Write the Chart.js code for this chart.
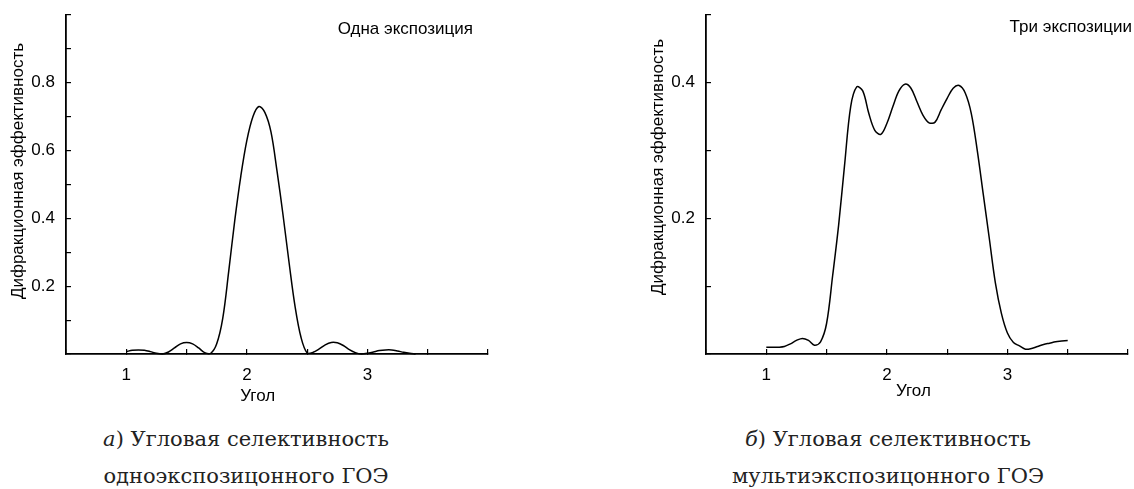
<!DOCTYPE html>
<html>
<head>
<meta charset="utf-8">
<script src="https://cdn.jsdelivr.net/npm/chart.js@4"></script>
<style>
  body { margin: 0; background: #fff; width: 1134px; height: 489px; overflow: hidden; position: relative; }
  canvas { position: absolute; top: 0; }
  .cap { position: absolute; top: 421px; width: 400px; text-align: center;
         font-family: "DejaVu Serif", serif; font-size: 21px; line-height: 37px; color: #222; }
</style>
</head>
<body>
<canvas id="single" width="567" height="420" style="left:0"></canvas>
<canvas id="multi" width="567" height="420" style="left:567px"></canvas>
<div class="cap" style="left:46px"><i>а</i>) Угловая селективность<br>одноэкспозицонного ГОЭ</div>
<div class="cap" style="left:688px"><i>б</i>) Угловая селективность<br>мультиэкспозицонного ГОЭ</div>
<script>
// Одна экспозиция
const singleAngle = [1.00, 1.05, 1.10, 1.15, 1.20, 1.25, 1.30, 1.35, 1.40, 1.45, 1.50, 1.55, 1.60, 1.65, 1.70,
  1.75, 1.80, 1.85, 1.90, 1.95, 2.00, 2.05, 2.10, 2.15, 2.20, 2.25, 2.30, 2.35, 2.40, 2.45, 2.50,
  2.55, 2.60, 2.65, 2.70, 2.75, 2.80, 2.85, 2.90, 2.95, 3.00, 3.05, 3.10, 3.15, 3.20, 3.25, 3.30, 3.35, 3.40];
const singleEff = [0.007, 0.011, 0.012, 0.011, 0.007, 0.002, 0.000, 0.006, 0.018, 0.030, 0.034, 0.030, 0.018, 0.004, 0.002,
  0.030, 0.105, 0.245, 0.395, 0.525, 0.630, 0.700, 0.730, 0.712, 0.655, 0.540, 0.410, 0.270, 0.140, 0.048, 0.003,
  0.005, 0.015, 0.027, 0.034, 0.033, 0.025, 0.013, 0.004, 0.000, 0.002, 0.006, 0.010, 0.012, 0.012, 0.009, 0.005, 0.002, 0.000];

// Три экспозиции
const multiAngle = [1.00, 1.05, 1.10, 1.15, 1.20, 1.25, 1.30, 1.35, 1.40, 1.45, 1.50, 1.55, 1.60, 1.65, 1.70,
  1.75, 1.80, 1.85, 1.90, 1.95, 2.00, 2.05, 2.10, 2.15, 2.20, 2.25, 2.30, 2.35, 2.40, 2.45, 2.50,
  2.55, 2.60, 2.65, 2.70, 2.75, 2.80, 2.85, 2.90, 2.95, 3.00, 3.05, 3.10, 3.15, 3.20, 3.25, 3.30, 3.35, 3.40, 3.45, 3.50];
const multiEff = [0.010, 0.010, 0.010, 0.011, 0.015, 0.020, 0.023, 0.020, 0.013, 0.018, 0.045, 0.115, 0.190, 0.280, 0.365,
  0.394, 0.388, 0.355, 0.330, 0.324, 0.340, 0.365, 0.388, 0.398, 0.392, 0.372, 0.352, 0.341, 0.342, 0.360, 0.377,
  0.392, 0.396, 0.385, 0.355, 0.300, 0.235, 0.170, 0.105, 0.060, 0.031, 0.017, 0.012, 0.007, 0.008, 0.011, 0.014, 0.016, 0.018, 0.019, 0.020];

const xLabels = ['1', '2', '3'];
const singleYLabels = ['0.2', '0.4', '0.6', '0.8'];
const multiYLabels = ['0.2', '0.4'];

const font = 'Liberation Sans, Arial, sans-serif';

// подписи осей и надпись в углу
const notes = {
  id: 'notes',
  afterDraw(chart, args, o) {
    const ctx = chart.ctx;
    const xs = chart.scales.x;
    ctx.save();
    ctx.fillStyle = '#000';
    ctx.font = '17px ' + font;
    ctx.textBaseline = 'middle';
    ctx.textAlign = 'right';
    ctx.fillText(o.corner, chart.chartArea.right + o.cornerDx, o.cornerY);
    ctx.textAlign = 'center';
    ctx.fillText('Угол', xs.getPixelForValue(o.xTitleAt), o.xTitleY);
    ctx.translate(o.yTitleX, o.yTitleY);
    ctx.rotate(-Math.PI / 2);
    ctx.fillText('Дифракционная эффективность', 0, 0);
    ctx.restore();
  }
};

function makeChart(id, angle, eff, yMax, yLabels, padLeft, padRight, noteOpts) {
  return new Chart(document.getElementById(id), {
    type: 'line',
    data: {
      datasets: [{
        data: angle.map((a, i) => ({ x: a, y: eff[i] })),
        borderColor: '#000',
        borderWidth: 1.5,
        pointRadius: 0,
        tension: 0.35,
        clip: false
      }]
    },
    options: {
      responsive: false,
      animation: false,
      devicePixelRatio: 1,
      layout: { padding: { left: padLeft, right: padRight, top: 15, bottom: 0 } },
      plugins: { legend: { display: false }, tooltip: { enabled: false }, notes: noteOpts },
      scales: {
        x: {
          type: 'linear', min: 0.5, max: 4,
          afterFit(s) { s.height = 66; s.paddingLeft = 0; s.paddingRight = 0; },
          border: { color: '#000', width: 1.8 },
          grid: { drawOnChartArea: false, tickLength: -5, color: '#000', lineWidth: 1.2 },
          ticks: {
            stepSize: 0.5, autoSkip: false, maxRotation: 0, padding: 16,
            color: '#000', font: { family: font, size: 17 },
            callback: v => xLabels.includes(String(v)) ? String(v) : ''
          }
        },
        y: {
          type: 'linear', min: 0, max: yMax,
          afterFit(s) { s.width = 66; s.paddingTop = 0; s.paddingBottom = 0; },
          border: { color: '#000', width: 1.8 },
          grid: { drawOnChartArea: false, tickLength: -5, color: '#000', lineWidth: 1.2 },
          ticks: {
            stepSize: 0.1, autoSkip: false, padding: 16,
            color: '#000', font: { family: font, size: 17 },
            callback: v => yLabels.includes(v.toFixed(1)) ? v.toFixed(1) : ''
          }
        }
      }
    },
    plugins: [notes]
  });
}

makeChart('single', singleAngle, singleEff, 1.0, singleYLabels, 0, 79,
  { corner: 'Одна экспозиция', cornerDx: -15, cornerY: 29, xTitleAt: 2.09, xTitleY: 396, yTitleX: 18, yTitleY: 171 });
makeChart('multi', multiAngle, multiEff, 0.5, multiYLabels, 73, 6,
  { corner: 'Три экспозиции', cornerDx: 4, cornerY: 27, xTitleAt: 2.22, xTitleY: 391, yTitleX: 91, yTitleY: 167 });
</script>
</body>
</html>
